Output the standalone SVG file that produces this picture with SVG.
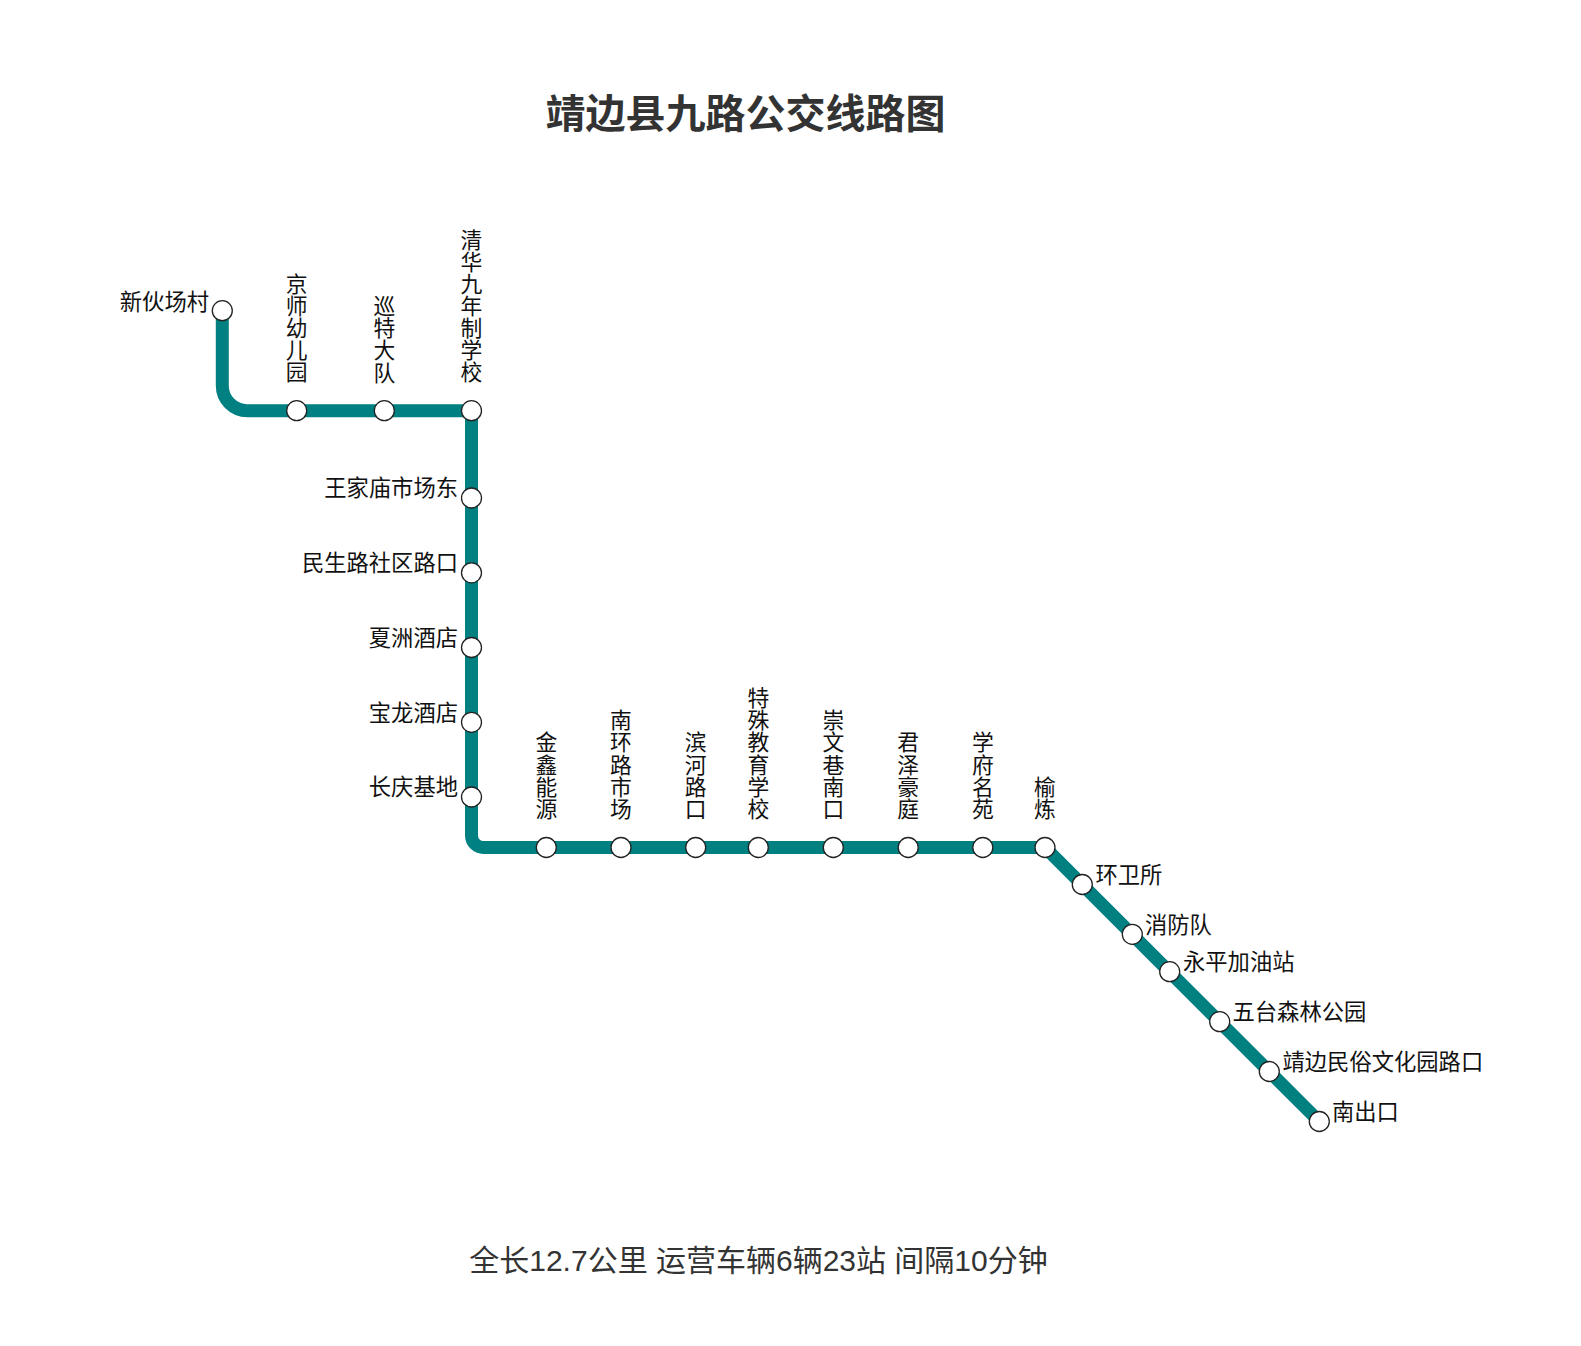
<svg xmlns="http://www.w3.org/2000/svg" width="1581" height="1346" viewBox="0 0 1581 1346">
<style>
text{font-family:"Liberation Sans","Noto Sans CJK SC",sans-serif;fill:#111}
.l{font-size:22.300px}
.v{font-size:21.800px;text-anchor:middle}
.e{text-anchor:end}
circle{fill:#fff;stroke:#222;stroke-width:1.3}
</style>
<rect width="1581" height="1346" fill="#fff"/>
<text x="745.500" y="128" font-size="40" font-weight="bold" text-anchor="middle" style="fill:#333">靖边县九路公交线路图</text>
<g id="connectors"><path d="M222.300 310.700V385.700A25 25 0 0 0 247.300 410.700H471.500V835.500A12 12 0 0 0 483.500 847.500H1045L1319.300 1121.500" fill="none" stroke="#008080" stroke-width="13"/></g>
<g id="n1"><circle cx="222.300" cy="310.700" r="10"/><text class="l e" x="209" y="309.500">新伙场村</text></g>
<g id="n2"><circle cx="296.700" cy="410.700" r="10"/><text class="v" x="296.700" y="292">京<tspan x="296.700" dy="22.100">师</tspan><tspan x="296.700" dy="22.100">幼</tspan><tspan x="296.700" dy="22.100">儿</tspan><tspan x="296.700" dy="22.100">园</tspan></text></g>
<g id="n3"><circle cx="384.300" cy="410.700" r="10"/><text class="v" x="384.300" y="314.200">巡<tspan x="384.300" dy="22.100">特</tspan><tspan x="384.300" dy="22.100">大</tspan><tspan x="384.300" dy="22.100">队</tspan></text></g>
<g id="n4"><circle cx="471.500" cy="410.700" r="10"/><text class="v" x="471.500" y="247.800">清<tspan x="471.500" dy="22.100">华</tspan><tspan x="471.500" dy="22.100">九</tspan><tspan x="471.500" dy="22.100">年</tspan><tspan x="471.500" dy="22.100">制</tspan><tspan x="471.500" dy="22.100">学</tspan><tspan x="471.500" dy="22.100">校</tspan></text></g>
<g id="n5"><circle cx="471.500" cy="498" r="10"/><text class="l e" x="458" y="496.200">王家庙市场东</text></g>
<g id="n6"><circle cx="471.500" cy="572.800" r="10"/><text class="l e" x="458" y="571">民生路社区路口</text></g>
<g id="n7"><circle cx="471.500" cy="647.500" r="10"/><text class="l e" x="458" y="645.700">夏洲酒店</text></g>
<g id="n8"><circle cx="471.500" cy="722.300" r="10"/><text class="l e" x="458" y="720.500">宝龙酒店</text></g>
<g id="n9"><circle cx="471.500" cy="797" r="10"/><text class="l e" x="458" y="795.200">长庆基地</text></g>
<g id="n10"><circle cx="546.300" cy="847.500" r="10"/><text class="v" x="546.300" y="750.400">金<tspan x="546.300" dy="22.100">鑫</tspan><tspan x="546.300" dy="22.100">能</tspan><tspan x="546.300" dy="22.100">源</tspan></text></g>
<g id="n11"><circle cx="621" cy="847.500" r="10"/><text class="v" x="621" y="728.300">南<tspan x="621" dy="22.100">环</tspan><tspan x="621" dy="22.100">路</tspan><tspan x="621" dy="22.100">市</tspan><tspan x="621" dy="22.100">场</tspan></text></g>
<g id="n12"><circle cx="695.700" cy="847.500" r="10"/><text class="v" x="695.700" y="750.400">滨<tspan x="695.700" dy="22.100">河</tspan><tspan x="695.700" dy="22.100">路</tspan><tspan x="695.700" dy="22.100">口</tspan></text></g>
<g id="n13"><circle cx="758.300" cy="847.500" r="10"/><text class="v" x="758.300" y="706.200">特<tspan x="758.300" dy="22.100">殊</tspan><tspan x="758.300" dy="22.100">教</tspan><tspan x="758.300" dy="22.100">育</tspan><tspan x="758.300" dy="22.100">学</tspan><tspan x="758.300" dy="22.100">校</tspan></text></g>
<g id="n14"><circle cx="833.300" cy="847.500" r="10"/><text class="v" x="833.300" y="728.300">崇<tspan x="833.300" dy="22.100">文</tspan><tspan x="833.300" dy="22.100">巷</tspan><tspan x="833.300" dy="22.100">南</tspan><tspan x="833.300" dy="22.100">口</tspan></text></g>
<g id="n15"><circle cx="908.200" cy="847.500" r="10"/><text class="v" x="908.200" y="750.400">君<tspan x="908.200" dy="22.100">泽</tspan><tspan x="908.200" dy="22.100">豪</tspan><tspan x="908.200" dy="22.100">庭</tspan></text></g>
<g id="n16"><circle cx="982.800" cy="847.500" r="10"/><text class="v" x="982.800" y="750.400">学<tspan x="982.800" dy="22.100">府</tspan><tspan x="982.800" dy="22.100">名</tspan><tspan x="982.800" dy="22.100">苑</tspan></text></g>
<g id="n17"><circle cx="1045" cy="847.500" r="10"/><text class="v" x="1045" y="794.700">榆<tspan x="1045" dy="22.100">炼</tspan></text></g>
<g id="n18"><circle cx="1082.300" cy="884.500" r="10"/><text class="l" x="1095.500" y="882.700">环卫所</text></g>
<g id="n19"><circle cx="1132.300" cy="934.300" r="10"/><text class="l" x="1145" y="932.800">消防队</text></g>
<g id="n20"><circle cx="1169.700" cy="971.700" r="10"/><text class="l" x="1183" y="970">永平加油站</text></g>
<g id="n21"><circle cx="1219.700" cy="1021.700" r="10"/><text class="l" x="1232.500" y="1019.700">五台森林公园</text></g>
<g id="n22"><circle cx="1269.300" cy="1071.500" r="10"/><text class="l" x="1282.500" y="1069.800">靖边民俗文化园路口</text></g>
<g id="n23"><circle cx="1319.300" cy="1121.500" r="10"/><text class="l" x="1332" y="1119.800">南出口</text></g>
<text x="758.500" y="1271.200" font-size="30" text-anchor="middle" style="fill:#333">全长12.7公里 运营车辆6辆23站 间隔10分钟</text>
</svg>
